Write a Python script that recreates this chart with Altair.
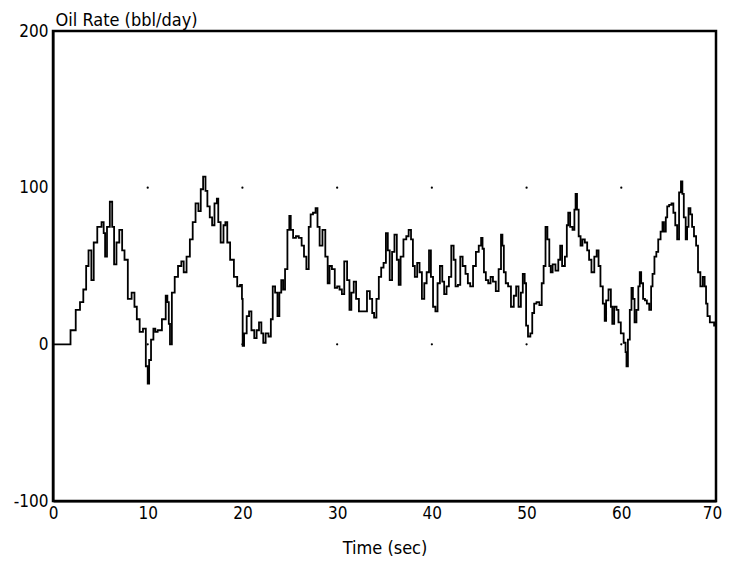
import altair as alt
import pandas as pd

# --- data ---
time_sec = [0, 1.6, 2.1, 2.7, 3.0, 3.4, 3.6, 3.9, 4.2, 4.4, 4.95, 5.3, 5.4, 5.6, 5.8, 6.2, 6.3, 6.6, 6.8, 7.2,
            7.4, 7.7, 8.1, 8.5, 8.7, 9.0, 9.3, 9.7, 9.9, 10.1, 10.2, 10.5, 10.7, 10.9, 11.2, 11.8, 12.0, 12.15, 12.3, 12.4,
            12.7, 13.0, 13.4, 13.7, 13.9, 14.3, 14.6, 14.9, 15.2, 15.5, 15.7, 16.0, 16.2, 16.4, 16.7, 16.9, 17.2, 17.4, 17.5, 17.9,
            18.1, 18.3, 18.5, 18.9, 19.3, 19.6, 19.9, 20.0, 20.05, 20.3, 20.6, 20.8, 21.1, 21.4, 21.6, 21.9, 22.1, 22.3, 22.6, 22.9,
            23.1, 23.3, 23.6, 23.8, 24.0, 24.2, 24.4, 24.6, 24.9, 25.0, 25.2, 25.5, 25.8, 26.1, 26.4, 26.6, 26.9, 27.1, 27.3, 27.6,
            27.85, 28.0, 28.3, 28.6, 28.9, 29.1, 29.3, 29.6, 29.9, 30.1, 30.4, 30.6, 30.9, 31.2, 31.4, 31.6, 31.9, 32.1, 32.5, 32.8,
            33.0, 33.3, 33.6, 33.8, 34.0, 34.3, 34.5, 34.8, 35.0, 35.3, 35.4, 35.7, 35.9, 36.2, 36.4, 36.6, 36.8, 37.2, 37.4, 37.7,
            37.9, 38.1, 38.3, 38.6, 38.8, 39.1, 39.3, 39.6, 39.8, 40.0, 40.25, 40.5, 40.7, 41.0, 41.2, 41.4, 41.7, 41.9, 42.2, 42.4,
            42.6, 42.9, 43.1, 43.4, 43.7, 43.9, 44.2, 44.5, 44.8, 45.1, 45.3, 45.4, 45.6, 45.8, 46.1, 46.3, 46.6, 46.9, 47.2, 47.4,
            47.5, 47.7, 47.9, 48.2, 48.5, 48.8, 49.0, 49.3, 49.5, 49.7, 49.9, 50.0, 50.3, 50.5, 50.7, 50.9, 51.2, 51.5, 51.7, 51.9,
            52.1, 52.3, 52.5, 52.6, 52.9, 53.2, 53.5, 53.6, 53.9, 54.2, 54.3, 54.5, 54.7, 55.0, 55.1, 55.25, 55.4, 55.6, 55.8, 56.0,
            56.3, 56.5, 56.7, 57.0, 57.3, 57.5, 57.7, 57.9, 58.2, 58.3, 58.5, 58.8, 59.0, 59.1, 59.4, 59.6, 59.8, 60.1, 60.4, 60.5,
            60.6, 60.8, 61.0, 61.15, 61.3, 61.5, 61.7, 61.9, 62.0, 62.2, 62.4, 62.6, 62.8, 63.1, 63.2, 63.4, 63.6, 63.8, 64.0, 64.3,
            64.4, 64.6, 64.8, 64.9, 65.2, 65.4, 65.6, 65.8, 66.0, 66.2, 66.4, 66.5, 66.7, 66.9, 67.0, 67.2, 67.4, 67.55, 67.8, 68.0,
            68.2, 68.5, 68.7, 68.9, 69.0, 69.2, 69.5, 69.7, 69.9, 70.0]
oil_rate = [0, 0, 9, 22, 27, 35, 50, 60, 41, 65, 75, 78, 71, 56, 75, 91, 75, 51, 65, 73,
            60, 54, 29, 33, 24, 16, 8, 10, -14, -25, -10, 3, 10, 8, 9, 16, 31, 27, 13, 0,
            33, 43, 50, 53, 46, 56, 67, 78, 90, 85, 99, 107, 98, 88, 81, 76, 90, 93, 78, 65,
            76, 78, 65, 54, 43, 37, 38, 29, -1, 7, 18, 21, 9, 4, 9, 14, 7, 1, 7, 5,
            16, 37, 33, 18, 33, 41, 35, 48, 73, 82, 73, 68, 69, 68, 63, 56, 48, 75, 83, 84,
            87, 75, 63, 73, 56, 39, 50, 48, 36, 37, 35, 32, 53, 41, 22, 33, 40, 29, 21, 21,
            21, 34, 29, 20, 17, 29, 43, 49, 52, 71, 60, 41, 59, 70, 54, 38, 56, 67, 69, 73,
            67, 50, 43, 52, 46, 29, 39, 46, 60, 43, 24, 21, 39, 50, 40, 32, 37, 43, 63, 54,
            37, 38, 56, 50, 45, 39, 37, 50, 59, 63, 68, 61, 46, 41, 39, 43, 40, 34, 48, 70,
            63, 46, 39, 37, 24, 31, 37, 24, 33, 45, 39, 12, 5, 7, 20, 26, 27, 25, 39, 50,
            75, 67, 50, 46, 51, 47, 54, 63, 50, 56, 76, 84, 75, 73, 86, 96, 86, 69, 63, 67,
            65, 60, 54, 46, 56, 60, 50, 37, 26, 15, 28, 35, 24, 13, 24, 22, 14, 7, 1, -5,
            -14, 3, 22, 36, 29, 14, 22, 37, 46, 39, 29, 28, 26, 22, 37, 45, 56, 59, 67, 72,
            78, 72, 81, 88, 89, 90, 84, 76, 67, 97, 104, 96, 81, 67, 75, 87, 83, 75, 69, 63,
            46, 37, 43, 37, 26, 18, 14, 14, 12, 13]

x_ticks = [0, 10, 20, 30, 40, 50, 60, 70]
y_ticks = [-100, 0, 100, 200]
grid_dot_x = [10, 20, 30, 40, 50, 60]
grid_dot_y = [0, 100]

df = pd.DataFrame({"t": time_sec, "rate": oil_rate})
dots = pd.DataFrame([{"t": gx, "rate": gy} for gx in grid_dot_x for gy in grid_dot_y])

FONT = "DejaVu Sans Condensed, Liberation Sans Narrow, Liberation Sans, sans-serif"

x_enc = alt.X("t:Q", scale=alt.Scale(domain=[0, 70], nice=False),
              axis=alt.Axis(values=x_ticks, title="Time (sec)", grid=False, ticks=False,
                            labelPadding=4, titlePadding=18, labelFlush=False,
                            labelOffset={"condition": {"test": "datum.value == 70", "value": -4},
                                         "value": 0}))
y_enc = alt.Y("rate:Q", scale=alt.Scale(domain=[-100, 200], nice=False),
              axis=alt.Axis(values=y_ticks, title="Oil Rate (bbl/day)", grid=False, ticks=False,
                            labelPadding=5, labelFlush=False,
                            labelExpr="'' + datum.value",
                            titleAngle=0, titleX=2, titleY=-2, titleAlign="left",
                            titleBaseline="bottom"))

line = alt.Chart(df).mark_line(color="black", strokeWidth=1.8, interpolate="step").encode(x=x_enc, y=y_enc)
pts = alt.Chart(dots).mark_point(filled=True, color="black", size=5, opacity=1).encode(x="t:Q", y="rate:Q")

chart = (pts + line).properties(
    width=663, height=470,
    background="white",
    autosize=alt.AutoSizeParams(type="none"),
    padding={"left": 45, "top": 23, "right": 7, "bottom": 64},
).configure_view(
    stroke="black", strokeWidth=2.5
).configure_axis(
    domainColor="black", domainWidth=2,
    labelFont=FONT, labelFontSize=17, labelColor="black",
    titleFont=FONT, titleFontSize=18, titleColor="black", titleFontWeight="normal",
)

chart.save("out.html", embed_options={"renderer": "svg", "actions": False})
